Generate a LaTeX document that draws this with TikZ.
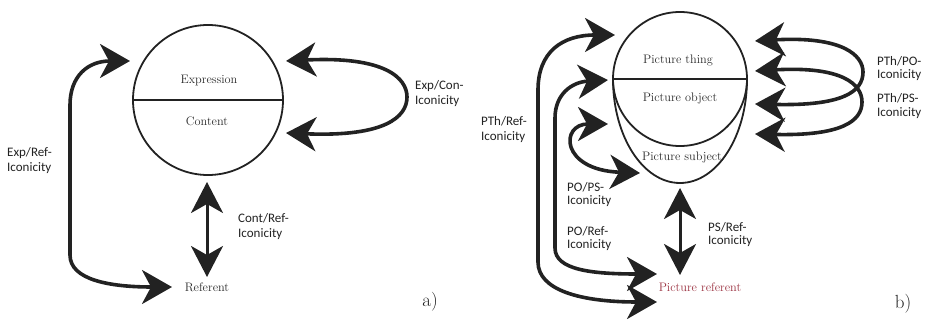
\documentclass[tikz,border=0pt]{standalone}
\usepackage{fontspec}
\newfontfamily\lblfont{Carlito}
\usetikzlibrary{arrows.meta}
\definecolor{ink}{HTML}{222222}
\definecolor{txt}{HTML}{2a2a2a}
\definecolor{refred}{RGB}{155,50,65}
\tikzset{
  arr/.style={draw=ink,line width=3.6pt,
    arrows={Stealth[length=30pt,width=34pt,inset=9pt]-Stealth[length=30pt,width=34pt,inset=9pt]}},
  thinarr/.style={draw=ink,line width=3pt,
    arrows={Stealth[length=31pt,width=32pt,inset=9pt]-Stealth[length=31pt,width=32pt,inset=9pt]}},
  shapeline/.style={draw=ink,line width=1.8pt},
  serif/.style={text=txt,font=\fontsize{12.3}{14}\selectfont,inner sep=0pt},
  lbl/.style={anchor=west,align=left,inner sep=0pt,text=ink,font=\lblfont\fontsize{13}{15}\selectfont},
  lbls/.style={anchor=west,align=left,inner sep=0pt,text=ink,font=\lblfont\fontsize{13}{13.5}\selectfont},
  panel/.style={text=ink,font=\fontsize{19}{20}\selectfont,inner sep=0pt}
}
\begin{document}
\begin{tikzpicture}[x=1pt,y=-1pt]
\useasboundingbox (0,0) rectangle (925,320);
% ---------------- panel a ----------------
\node[circle,shapeline,minimum size=150pt,inner sep=0pt] (C) at (208,100) {};
\draw[shapeline] (C.west) -- (C.east);
\node[serif] (expr) at (209,81) {Expression};
\node[serif] (cont) at (207,121) {Content};
\node[serif] (refa) at (207,287) {Referent};

\coordinate (a1) at (130,61);
\coordinate (a2) at (172,287);
\draw[arr] (a1) .. controls (88,61) and (70,76) .. (70,105) -- (70,255)
  .. controls (70,280) and (110,287) .. (a2);

\coordinate (a3) at (286,61);
\coordinate (a4) at (286,133);
\draw[arr] (a3) .. controls (385,56) and (407,78) .. (407,97)
  .. controls (407,117) and (385,137) .. (a4);

\coordinate (a5) at (207,182);
\coordinate (a6) at (207,277);
\draw[thinarr] (a5) -- (a6);

\node[lbl] (l1) at (7,160.5) {Exp/Ref-\\Iconicity};
\node[lbl] (l2) at (415,94) {Exp/Con-\\Iconicity};
\node[lbl] (l3) at (238,227) {Cont/Ref-\\Iconicity};
\node[panel] (pa) at (430,302) {a)};

% ---------------- panel b ----------------
\coordinate (P) at (680,79);
\draw[shapeline] (P) circle[radius=67pt];
\draw[shapeline] (613,79) arc[start angle=180,end angle=360,x radius=67pt,y radius=104pt];
\draw[shapeline] (613,79) -- (747,79);
\node[serif] (pth) at (678,60) {Picture thing};
\node[serif] (pob) at (680,98) {Picture object};
\node[serif] (psu) at (682,157) {Picture subject};
\node[serif,text=refred] (pre) at (700,287) {Picture referent};

\coordinate (b1) at (615,35);
\coordinate (b2) at (657,302);
\draw[arr] (b1) .. controls (562,35) and (538,52) .. (538,90) -- (538,262)
  .. controls (538,290) and (580,302) .. (b2);

\coordinate (b3) at (608,80);
\coordinate (b4) at (657,274);
\draw[arr] (b3) .. controls (572,82) and (555,94) .. (555,118) -- (555,248)
  .. controls (555,270) and (592,274) .. (b4);

\coordinate (b5) at (608,124);
\coordinate (b6) at (640,173);
\draw[arr] (b5) .. controls (560,124) and (560,170) .. (b6);

\coordinate (b7) at (680,188);
\coordinate (b8) at (680,275);
\draw[thinarr] (b7) -- (b8);

\coordinate (r1) at (755,41);
\coordinate (r2) at (755,71);
\coordinate (r3) at (755,104);
\coordinate (r4) at (755,134);
\draw[arr] (r1) .. controls (842,36) and (863,55) .. (863,72)
  .. controls (863,92) and (842,106) .. (r3);
\draw[arr] (r2) .. controls (842,66) and (862,84) .. (862,102)
  .. controls (862,121) and (842,136) .. (r4);

\node[lbl] (l4) at (481,129.5) {PTh/Ref-\\Iconicity};
\node[lbls] (l5) at (567,194.5) {PO/PS-\\Iconicity};
\node[lbls] (l6) at (567,238.5) {PO/Ref-\\Iconicity};
\node[lbls] (l7) at (708,234.5) {PS/Ref-\\Iconicity};
\node[lbls] (l8) at (877,68.5) {PTh/PO-\\Iconicity};
\node[lbls] (l9) at (877,106) {PTh/PS-\\Iconicity};
\node[panel] (pb) at (903,304) {b)};
\end{tikzpicture}
\end{document}
